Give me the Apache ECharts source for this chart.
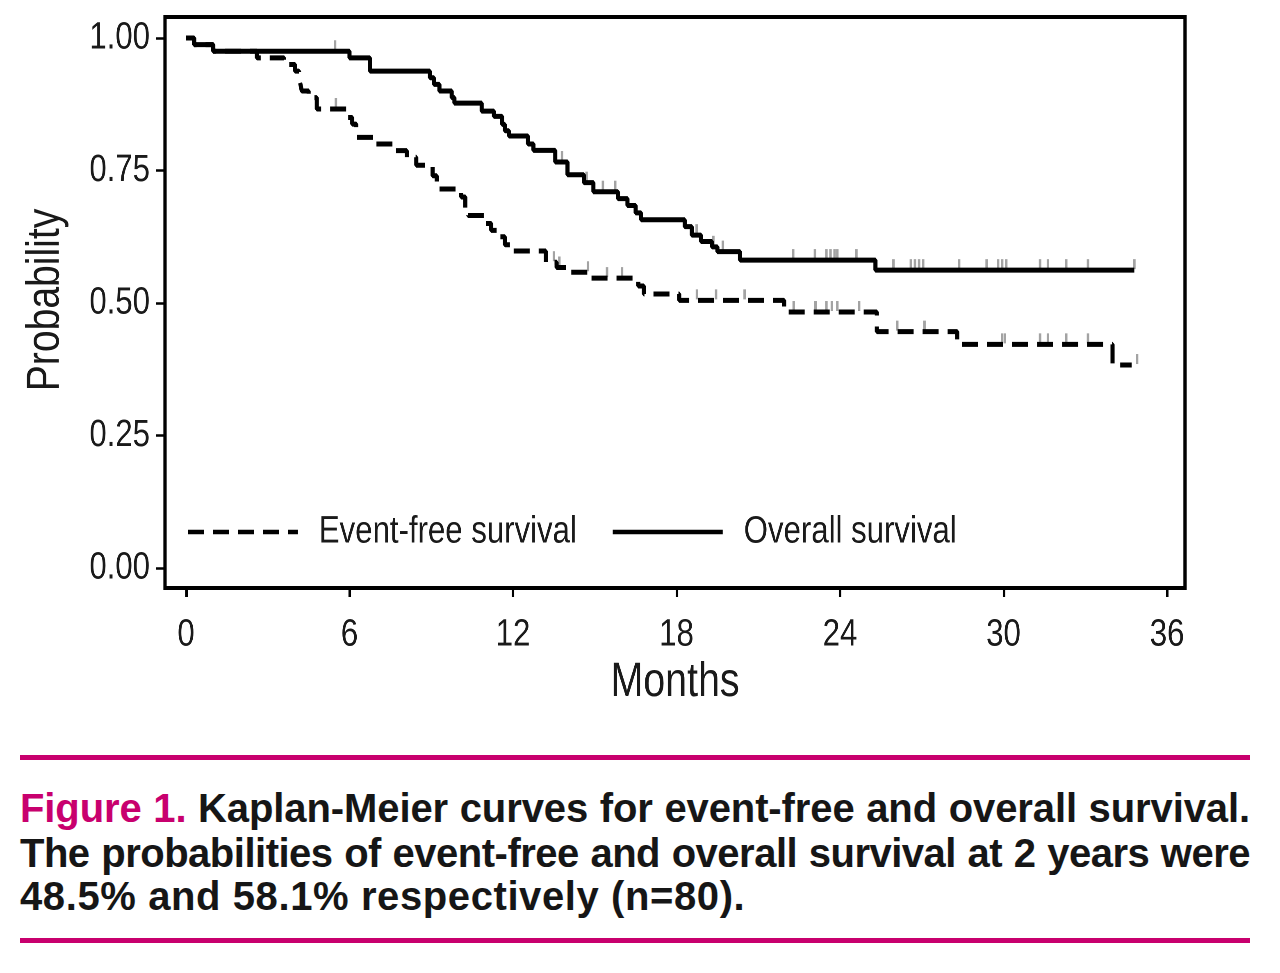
<!DOCTYPE html>
<html>
<head>
<meta charset="utf-8">
<script src="https://cdn.jsdelivr.net/npm/echarts@6/dist/echarts.min.js"></script>
<style>
  html, body { margin: 0; padding: 0; background: #fff; }
  #wrap { position: relative; width: 1280px; height: 973px; overflow: hidden; background: #fff; }
  #chart { position: absolute; left: 0; top: 0; width: 1561px; height: 740px;
           transform: scaleX(0.82); transform-origin: 0 0; }
  .rule { position: absolute; left: 20px; width: 1230px; height: 5px; background: #c8006e; }
  .cap { position: absolute; left: 20px; width: 1230px; white-space: nowrap;
    font-family: "Liberation Sans", Arial, sans-serif; font-weight: bold; font-size: 40px;
    line-height: 44px; color: #161616; }
  .just { text-align: justify; text-align-last: justify; }
  .fig { color: #c8006e; }
</style>
</head>
<body>
<div id="wrap">
  <div id="chart"></div>
  <div class="rule" style="top:755px"></div>
  <div class="cap just" style="top:786px; letter-spacing:-0.1px"><span class="fig">Figure 1.</span> Kaplan-Meier curves for event-free and overall survival.</div>
  <div class="cap just" style="top:831px; letter-spacing:-0.5px">The probabilities of event-free and overall survival at 2 years were</div>
  <div class="cap" style="top:874px; letter-spacing:0.6px">48.5% and 58.1% respectively (n=80).</div>
  <div class="rule" style="top:938px"></div>
</div>
<script>
// ---- Data ----
const xTicks = [0, 6, 12, 18, 24, 30, 36];
const yTicks = [0, 0.25, 0.5, 0.75, 1.0];
const seriesNames = ['Event-free survival', 'Overall survival'];
const xTitle = 'Months';
const yTitle = 'Probability';

// Overall survival: step times (months) and survival after each step
const osTime = [0, 0.3, 1.0, 6.0, 6.75, 8.95, 9.1, 9.3, 9.75, 9.85, 10.85, 11.3, 11.6, 11.7, 11.85, 12.55, 12.75,
                13.55, 14.0, 14.6, 14.95, 15.85, 16.2, 16.5, 16.7, 18.3, 18.56, 18.9, 19.3, 19.5, 20.33, 25.3, 34.8];
const osSurv = [1.0, 0.9875, 0.975, 0.9625, 0.9375, 0.925, 0.9125, 0.90, 0.8875, 0.877, 0.862, 0.852, 0.837, 0.825, 0.815, 0.80, 0.788,
                0.766, 0.742, 0.727, 0.71, 0.697, 0.684, 0.670, 0.657, 0.644, 0.628, 0.616, 0.606, 0.597, 0.581, 0.562, 0.562];
const osCensor = [5.47, 13.8, 14.7, 15.3, 15.75, 18.74, 19.35, 19.7, 22.28, 23.08, 23.5, 23.65, 23.8, 23.9, 24.6,
                  25.96, 26.6, 26.75, 26.9, 27.05, 28.37, 29.38, 29.8, 29.95, 30.1, 31.34, 31.63, 32.3, 33.1, 34.8];

// Event-free survival
const efsTime = [0, 0.3, 1.0, 2.6, 3.6, 4.0, 4.15, 4.2, 4.25, 4.5, 4.8, 5.95, 6.1, 6.25, 6.9, 7.6, 8.1, 8.45,
                 9.05, 9.2, 9.3, 10.1, 10.25, 10.35, 11.0, 11.2, 11.45, 11.7, 11.9, 13.2, 13.6, 14.05, 14.8,
                 16.6, 16.8, 18.1, 21.95, 25.35, 28.3, 34.0, 34.7];
const efsSurv = [1.0, 0.9875, 0.975, 0.9625, 0.95, 0.9375, 0.925, 0.9125, 0.90, 0.8875, 0.866, 0.85, 0.8375, 0.8125, 0.80, 0.7875, 0.775, 0.76,
                 0.74, 0.725, 0.715, 0.70, 0.68, 0.665, 0.65, 0.637, 0.625, 0.61, 0.598, 0.577, 0.567, 0.558, 0.547,
                 0.532, 0.517, 0.505, 0.483, 0.446, 0.422, 0.383, 0.383];
const efsCensor = [5.5, 13.5, 13.7, 14.75, 15.45, 16.0, 18.75, 19.45, 20.5, 22.3, 23.1, 23.5, 23.7, 23.9, 24.7,
                   26.1, 27.1, 29.95, 30.05, 31.34, 31.63, 32.3, 33.1, 34.9];

// ---- Build ----
function pairs(t, s) { return t.map((v, i) => [v, s[i]]); }
function stepAt(t, s, x) { let y = s[0]; for (let i = 0; i < t.length; i++) { if (t[i] <= x) y = s[i]; } return y; }
function censorPts(t, s, c) { return c.map(x => [x, stepAt(t, s, x)]); }

const SX = 0.82; // horizontal condensing applied to the chart container (narrow Helvetica look)
const FONT = '"Liberation Sans", Arial, sans-serif';
const TXT = '#1a1a1a';
const chart = echarts.init(document.getElementById('chart'), null, { renderer: 'canvas', devicePixelRatio: 2 });
chart.setOption({
  animation: false,
  backgroundColor: '#fff',
  grid: { left: 165 / SX, right: 95 / SX, top: 17, bottom: 152, show: true,
          borderColor: '#000', borderWidth: 4, backgroundColor: 'transparent' },
  legend: {
    data: seriesNames, left: 186 / SX, top: 513, padding: 0,
    itemWidth: 110 / SX, itemHeight: 20, itemGap: 34 / SX,
    itemStyle: { opacity: 0 },
    lineStyle: { width: 4.5, color: '#000' },
    textStyle: { fontFamily: FONT, fontSize: 38, color: TXT, padding: [0, 0, 0, 21 / SX - 5] }
  },
  graphic: [{
    type: 'text', x: 46 / SX, y: 300, rotation: Math.PI / 2, scaleX: 0.85, scaleY: 1 / SX,
    style: { text: yTitle, fontFamily: FONT, fontSize: 46, fill: TXT, align: 'center', verticalAlign: 'middle' }
  }],
  xAxis: {
    type: 'value', min: -0.77, max: 36.66,
    name: xTitle, nameLocation: 'middle', nameGap: 70,
    nameTextStyle: { fontFamily: FONT, fontSize: 48, color: TXT },
    axisLine: { show: false, onZero: false },
    axisTick: { show: true, length: 9, lineStyle: { color: '#000', width: 2.5 / SX }, customValues: xTicks },
    axisLabel: { fontFamily: FONT, fontSize: 38, color: TXT, margin: 28, customValues: xTicks },
    splitLine: { show: false }
  },
  yAxis: {
    type: 'value', min: -0.0377, max: 1.0396,
    axisLine: { show: false, onZero: false },
    axisTick: { show: true, length: 9 / SX, lineStyle: { color: '#000', width: 2.5 }, customValues: yTicks },
    axisLabel: { fontFamily: FONT, fontSize: 38, color: TXT, margin: 15 / SX, customValues: yTicks,
                 formatter: v => v.toFixed(2) },
    splitLine: { show: false }
  },
  series: [
    { name: seriesNames[0], type: 'line', step: 'end', symbol: 'none', data: pairs(efsTime, efsSurv),
      lineStyle: { color: '#000', width: 5, type: [16 / SX, 9 / SX] }, itemStyle: { color: '#000' }, z: 3 },
    { name: seriesNames[1], type: 'line', step: 'end', symbol: 'none', data: pairs(osTime, osSurv),
      lineStyle: { color: '#000', width: 5, type: 'solid' }, itemStyle: { color: '#000' }, z: 3 },
    { name: 'efsCensor', type: 'scatter', data: censorPts(efsTime, efsSurv, efsCensor), symbol: 'rect',
      symbolSize: [2.5 / SX, 10], symbolOffset: [0, -6], itemStyle: { color: '#8c8c8c' }, z: 2 },
    { name: 'osCensor', type: 'scatter', data: censorPts(osTime, osSurv, osCensor), symbol: 'rect',
      symbolSize: [2.5 / SX, 10], symbolOffset: [0, -6], itemStyle: { color: '#8c8c8c' }, z: 2 }
  ]
});
</script>
</body>
</html>
